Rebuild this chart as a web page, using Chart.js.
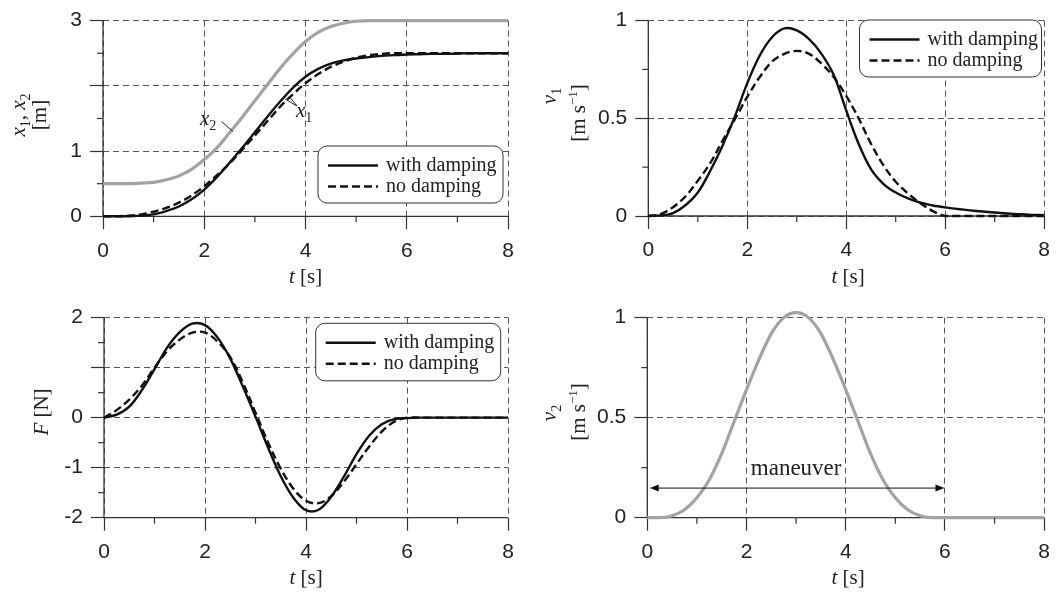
<!DOCTYPE html>
<html><head><meta charset="utf-8">
<script src="https://cdn.jsdelivr.net/npm/chart.js@4"></script>
<style>
html,body{margin:0;padding:0;background:#fff;width:1059px;height:597px;overflow:hidden}
.p{position:absolute}
</style></head><body>
<div class="p" id="d1" style="left:0px;top:0px;width:530px;height:297px"><canvas id="c1"></canvas></div>
<div class="p" id="d2" style="left:530px;top:0px;width:529px;height:297px"><canvas id="c2"></canvas></div>
<div class="p" id="d3" style="left:0px;top:297px;width:530px;height:300px"><canvas id="c3"></canvas></div>
<div class="p" id="d4" style="left:530px;top:297px;width:529px;height:300px"><canvas id="c4"></canvas></div>
<script>
// ---- data ----
const T = [0,0.25,0.5,0.75,1,1.25,1.5,1.75,2,2.25,2.5,2.75,3,3.25,3.5,3.75,4,4.25,4.5,4.75,5,5.25,5.5,5.75,6,6.25,6.5,6.75,7,7.25,7.5,7.75,8];
const X2_POS    = [0.50,0.50,0.50,0.51,0.52,0.56,0.62,0.72,0.87,1.05,1.28,1.52,1.77,2.02,2.27,2.49,2.68,2.82,2.91,2.96,2.99,3.00,3.00,3.00,3.00,3.00,3.00,3.00,3.00,3.00,3.00,3.00,3.00];
const X1_DAMP   = [0,0.00,0.00,0.01,0.03,0.08,0.15,0.26,0.41,0.60,0.82,1.05,1.29,1.53,1.76,1.97,2.14,2.26,2.34,2.39,2.42,2.44,2.46,2.47,2.48,2.485,2.49,2.49,2.495,2.50,2.50,2.50,2.50];
const X1_NODAMP = [0,0.00,0.01,0.03,0.07,0.13,0.21,0.32,0.46,0.63,0.81,1.02,1.24,1.46,1.68,1.87,2.04,2.18,2.29,2.37,2.43,2.47,2.49,2.50,2.50,2.50,2.50,2.50,2.50,2.50,2.50,2.50,2.50];
const V1_DAMP   = [0,0.003,0.015,0.055,0.12,0.23,0.36,0.51,0.68,0.82,0.915,0.96,0.95,0.905,0.83,0.72,0.54,0.37,0.24,0.165,0.12,0.09,0.068,0.054,0.044,0.036,0.029,0.023,0.018,0.013,0.009,0.006,0.004];
const V1_NODAMP = [0,0.01,0.045,0.10,0.18,0.27,0.385,0.495,0.61,0.71,0.79,0.83,0.845,0.83,0.78,0.71,0.615,0.50,0.37,0.26,0.175,0.115,0.065,0.025,0,0,0,0,0,0,0,0,0];
const F_DAMP    = [0,0.06,0.22,0.55,0.97,1.40,1.71,1.88,1.85,1.60,1.18,0.62,0.02,-0.60,-1.17,-1.60,-1.85,-1.84,-1.58,-1.18,-0.73,-0.36,-0.13,-0.03,-0.01,0,0,0,0,0,0,0,0];
const F_NODAMP  = [0,0.15,0.36,0.64,1.00,1.33,1.56,1.70,1.70,1.52,1.21,0.70,0.10,-0.50,-1.02,-1.42,-1.66,-1.71,-1.57,-1.28,-0.93,-0.58,-0.28,-0.08,0,0,0,0,0,0,0,0,0];
const V2        = [0,0.00,0.01,0.04,0.10,0.19,0.32,0.48,0.64,0.79,0.92,1.00,1.025,1.00,0.92,0.79,0.64,0.48,0.32,0.19,0.10,0.04,0.01,0.00,0,0,0,0,0,0,0,0,0];

const T_TICKS = [0,2,4,6,8];
const T_TICK_LABELS = ['0','2','4','6','8'];
const T_MINOR = [1,3,5,7];
const POS_TICKS = [0,1,2,3];
const POS_TICK_LABELS = ['0','1','','3'];
const POS_MINOR = [0.5,1.5,2.5];
const VEL_TICKS = [0,0.5,1];
const VEL_TICK_LABELS = ['0','0.5','1'];
const VEL_MINOR = [0.25,0.75];
const F_TICKS = [-2,-1,0,1,2];
const F_TICK_LABELS = ['-2','-1','0','','2'];
const F_MINOR = [-1.5,-0.5,0.5,1.5];
const LEG_LABELS = ['with damping','no damping'];
const MANEUVER = {from:0.05, to:5.99, y:0.148, text:'maneuver'};

// ---- styling ----
const SERIF = '"Liberation Serif","Times New Roman",serif';
const SANS = '"Liberation Sans",Arial,sans-serif';
const INK = '#222';
const GRAY = '#a3a3a3';

function pts(arr){ return T.map((t,i)=>({x:t,y:arr[i]})); }
function solid(label,arr,mono){ return {label, data:pts(arr), borderColor:'#111', borderWidth:2.4, pointRadius:0, fill:false, clip:false, tension:0.35, cubicInterpolationMode:mono?'monotone':'default'}; }
function dashed(label,arr,mono){ return {label, data:pts(arr), borderColor:'#111', borderWidth:2.4, borderDash:[8,4], pointRadius:0, fill:false, clip:false, tension:0.35, cubicInterpolationMode:mono?'monotone':'default'}; }
function grayLine(label,arr){ return {label, data:pts(arr), borderColor:GRAY, borderWidth:3.2, pointRadius:0, fill:false, clip:false, cubicInterpolationMode:'monotone'}; }

function richWidth(ctx, segs){ let w=0; for(const s of segs){ctx.font=s.f; w+=ctx.measureText(s.t).width;} return w; }
function drawRich(ctx, segs, x, y, rot, align){
  ctx.save(); ctx.translate(x,y); if(rot) ctx.rotate(-Math.PI/2);
  const w = richWidth(ctx, segs);
  let cx = align==='left'?0:-w/2;
  ctx.textBaseline='alphabetic'; ctx.textAlign='left'; ctx.fillStyle=INK;
  for(const s of segs){ ctx.font=s.f; ctx.fillText(s.t, cx, s.dy||0); cx += ctx.measureText(s.t).width; }
  ctx.restore();
}
const IT = 'italic 21px '+SERIF, RM = '21px '+SERIF, SUB = '14px '+SERIF, SUP='13px '+SERIF;
const TSEGS = [{t:'t',f:IT},{t:' [s]',f:RM}];
const UNIT_V = [{t:'[m s',f:RM},{t:'\u22121',f:SUP,dy:-8},{t:']',f:RM}];

const panels = [
 { id:'c1', reg:{l:0,t:0,w:530,h:297}, area:{l:103,r:508,t:14,b:216.3},
   y:{min:0,max:3,ticks:POS_TICKS,labels:POS_TICK_LABELS,minor:POS_MINOR},
   datasets:[grayLine('x2',X2_POS), solid(LEG_LABELS[0],X1_DAMP,true), dashed(LEG_LABELS[1],X1_NODAMP,true)],
   legend:{x:318,y:146,w:185,h:57,items:[1,2]},
   ytitle:[{segs:[{t:'x',f:IT},{t:'1',f:SUB,dy:5},{t:', ',f:RM},{t:'x',f:IT},{t:'2',f:SUB,dy:5}], bx:25, cy:115},
           {segs:[{t:'[m]',f:RM}], bx:46, cy:115}],
   xtitle:{cx:305.5, by:283},
   extra:function(ctx,ch,o){
     drawRich(ctx,[{t:'x',f:IT},{t:'2',f:SUB,dy:5}], 200-o.l, 125-o.t, false, 'left');
     drawRich(ctx,[{t:'x',f:IT},{t:'1',f:SUB,dy:5}], 296-o.l, 117-o.t, false, 'left');
     ctx.save(); ctx.strokeStyle='#222'; ctx.lineWidth=1;
     ctx.beginPath(); ctx.moveTo(221.5-o.l,121.5-o.t); ctx.lineTo(233-o.l,131.5-o.t); ctx.stroke();
     ctx.beginPath(); ctx.moveTo(297-o.l,106-o.t); ctx.lineTo(285-o.l,99-o.t); ctx.stroke();
     ctx.beginPath(); ctx.moveTo(297-o.l,106-o.t); ctx.lineTo(289-o.l,96-o.t); ctx.stroke();
     ctx.restore();
   }},
 { id:'c2', reg:{l:530,t:0,w:529,h:297}, area:{l:648.3,r:1048,t:14.3,b:216},
   y:{min:0,max:1,ticks:VEL_TICKS,labels:VEL_TICK_LABELS,minor:VEL_MINOR},
   datasets:[solid(LEG_LABELS[0],V1_DAMP,false), dashed(LEG_LABELS[1],V1_NODAMP,false)],
   legend:{x:859.5,y:20,w:182,h:57,items:[0,1]},
   ytitle:[{segs:[{t:'v',f:IT},{t:'1',f:SUB,dy:5}], bx:556, cy:96},
           {segs:UNIT_V, bx:584.5, cy:113}],
   xtitle:{cx:848, by:283}},
 { id:'c3', reg:{l:0,t:297,w:530,h:300}, area:{l:104,r:508,t:315,b:517.7},
   y:{min:-2,max:2,ticks:F_TICKS,labels:F_TICK_LABELS,minor:F_MINOR},
   datasets:[solid(LEG_LABELS[0],F_DAMP,false), dashed(LEG_LABELS[1],F_NODAMP,false)],
   legend:{x:315.7,y:323.3,w:185,h:57.5,items:[0,1]},
   ytitle:[{segs:[{t:'F',f:IT},{t:' [N]',f:RM}], bx:48, cy:412}],
   xtitle:{cx:306, by:584}},
 { id:'c4', reg:{l:530,t:297,w:529,h:300}, area:{l:647.3,r:1047.7,t:315.3,b:517.7},
   y:{min:0,max:1,ticks:VEL_TICKS,labels:VEL_TICK_LABELS,minor:VEL_MINOR},
   datasets:[grayLine('v2',V2)],
   ytitle:[{segs:[{t:'v',f:IT},{t:'2',f:SUB,dy:5}], bx:556, cy:413},
           {segs:UNIT_V, bx:585, cy:412}],
   xtitle:{cx:848, by:584},
   extra:function(ctx,ch){
     const xs=ch.scales.x, ys=ch.scales.y;
     const x1=xs.getPixelForValue(MANEUVER.from), x2=xs.getPixelForValue(MANEUVER.to), y=ys.getPixelForValue(MANEUVER.y);
     ctx.save(); ctx.strokeStyle='#111'; ctx.fillStyle='#111'; ctx.lineWidth=1;
     ctx.beginPath(); ctx.moveTo(x1+6,y); ctx.lineTo(x2-6,y); ctx.stroke();
     ctx.beginPath(); ctx.moveTo(x1,y); ctx.lineTo(x1+9,y-3.5); ctx.lineTo(x1+9,y+3.5); ctx.closePath(); ctx.fill();
     ctx.beginPath(); ctx.moveTo(x2,y); ctx.lineTo(x2-9,y-3.5); ctx.lineTo(x2-9,y+3.5); ctx.closePath(); ctx.fill();
     ctx.font='23px '+SERIF; ctx.textAlign='center'; ctx.textBaseline='alphabetic'; ctx.fillStyle=INK;
     ctx.fillText(MANEUVER.text, xs.getPixelForValue(3), y-13.5);
     ctx.restore();
   }}
];
const PANEL_BY_ID = {}; for(const P of panels) PANEL_BY_ID[P.id]=P;

function roundRect(ctx,x,y,w,h,r){
  ctx.beginPath(); ctx.moveTo(x+r,y); ctx.lineTo(x+w-r,y); ctx.arcTo(x+w,y,x+w,y+r,r);
  ctx.lineTo(x+w,y+h-r); ctx.arcTo(x+w,y+h,x+w-r,y+h,r); ctx.lineTo(x+r,y+h); ctx.arcTo(x,y+h,x,y+h-r,r);
  ctx.lineTo(x,y+r); ctx.arcTo(x,y,x+r,y,r); ctx.closePath();
}

const decor = {
  id:'decor',
  beforeDatasetsDraw(ch){
    const a = ch.chartArea, ctx = ch.ctx;
    // solid axis lines (left and bottom)
    ctx.save(); ctx.setLineDash([]); ctx.strokeStyle='#333'; ctx.lineWidth=1.3;
    ctx.beginPath(); ctx.moveTo(a.left,a.top); ctx.lineTo(a.left,a.bottom); ctx.lineTo(a.right,a.bottom); ctx.stroke();
    ctx.restore();
  },
  afterDraw(ch){
    const P = PANEL_BY_ID[ch.canvas.id]; if(!P) return;
    const o = P.reg, ctx = ch.ctx, a = ch.chartArea;
    const xs = ch.scales.x, ys = ch.scales.y;
    ctx.save();
    ctx.strokeStyle='#333'; ctx.lineWidth=1.2;
    for(const v of T_MINOR){ const px=xs.getPixelForValue(v); ctx.beginPath(); ctx.moveTo(px,a.bottom); ctx.lineTo(px,a.bottom+6); ctx.stroke(); }
    for(const v of P.y.minor){ const py=ys.getPixelForValue(v); ctx.beginPath(); ctx.moveTo(a.left-6,py); ctx.lineTo(a.left,py); ctx.stroke(); }
    ctx.restore();
    for(const tl of P.ytitle) drawRich(ctx, tl.segs, tl.bx-o.l, tl.cy-o.t, true);
    drawRich(ctx, TSEGS, P.xtitle.cx-o.l, P.xtitle.by-o.t, false);
    if(P.legend){
      const L=P.legend, lx=L.x-o.l, ly=L.y-o.t;
      ctx.save();
      roundRect(ctx,lx,ly,L.w,L.h,9); ctx.fillStyle='#fff'; ctx.fill(); ctx.strokeStyle='#333'; ctx.lineWidth=1; ctx.stroke();
      L.items.forEach((di,k)=>{
        const ds = ch.data.datasets[di];
        const yy = ly+19.5+k*21;
        ctx.beginPath(); ctx.setLineDash(ds.borderDash||[]); ctx.strokeStyle='#111'; ctx.lineWidth=2.4;
        ctx.moveTo(lx+10,yy); ctx.lineTo(lx+60,yy); ctx.stroke(); ctx.setLineDash([]);
        ctx.font='20px '+SERIF; ctx.fillStyle=INK; ctx.textAlign='left'; ctx.textBaseline='alphabetic';
        ctx.fillText(ds.label, lx+68, yy+5);
      });
      ctx.restore();
    }
    if(P.extra) P.extra(ctx, ch, o);
  }
};

for(const P of panels){
  const o=P.reg, A=P.area;
  const padTop = A.t - o.t, padRight = o.w - (A.r - o.l);
  const yW = A.l - o.l, xH = o.h - (A.b - o.t);
  const gridCommon = {color:'#555', lineWidth:1, tickColor:'#333', tickLength:13, tickWidth:1.2, drawTicks:true};
  const borderCommon = {display:false, color:'#333', width:1.3, dash:[6,4]};
  new Chart(document.getElementById(P.id), {
    type:'line',
    data:{datasets:P.datasets},
    options:{
      responsive:true, maintainAspectRatio:false, animation:false,
      layout:{padding:{left:0, top:padTop, right:padRight, bottom:0}},
      plugins:{legend:{display:false}, tooltip:{enabled:false}},
      events:[],
      scales:{
        x:{type:'linear', min:0, max:8,
           afterBuildTicks:(s)=>{ s.ticks = T_TICKS.map(v=>({value:v})); },
           afterFit:(s)=>{ s.height = xH; },
           ticks:{autoSkip:false, maxRotation:0, padding:9, color:INK, font:{family:SANS, size:21},
                  callback:(v,i)=>T_TICK_LABELS[i]},
           grid:gridCommon, border:borderCommon},
        y:{type:'linear', min:P.y.min, max:P.y.max,
           afterBuildTicks:(s)=>{ s.ticks = P.y.ticks.map(v=>({value:v})); },
           afterFit:(s)=>{ s.width = yW; },
           ticks:{autoSkip:false, padding:8, color:INK, font:{family:SANS, size:21},
                  callback:(v,i)=>P.y.labels[i]},
           grid:gridCommon, border:borderCommon}
      }
    },
    plugins:[decor]
  });
}
</script>
</body></html>
